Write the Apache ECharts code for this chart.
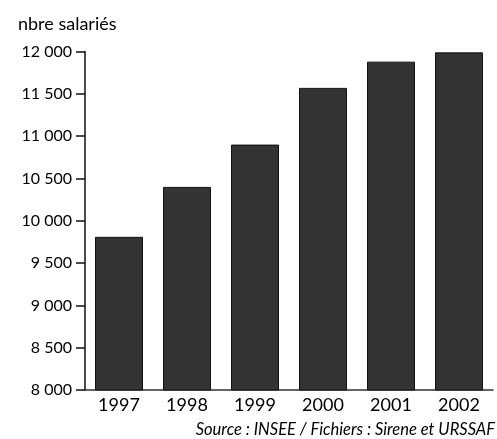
<!DOCTYPE html>
<html><head><meta charset="utf-8">
<script src="https://cdn.jsdelivr.net/npm/echarts@6/dist/echarts.min.js"></script>
<style>html,body{margin:0;padding:0;background:#fff}#c{width:497px;height:439px}</style>
</head><body><div id="c"></div>
<script>
const years = ['1997','1998','1999','2000','2001','2002'];
const salaries = [9810, 10400, 10900, 11570, 11880, 11990];
const yTitle = 'nbre salariés';
const sourceText = 'Source : INSEE / Fichiers : Sirene et URSSAF';
const fmt = v => String(v).replace(/\B(?=(\d{3})+(?!\d))/g, ' ');
const chart = echarts.init(document.getElementById('c'), null, {renderer:'canvas'});
chart.setOption({
  animation:false,
  backgroundColor:'#fff',
  textStyle:{fontFamily:'Lato'},
  grid:{left:85,right:4,top:51.5,bottom:49,containLabel:false},
  title:[
    {text:yTitle,left:13,top:10,textStyle:{fontFamily:'Lato',fontSize:18,fontWeight:'normal',color:'#000'}},
    {text:sourceText,right:-3,top:416,textStyle:{fontFamily:'Lato',fontSize:16.5,fontStyle:'italic',fontWeight:'normal',color:'#000'}}
  ],
  xAxis:{type:'category',data:years,
    axisLine:{lineStyle:{color:'#333',width:1.5}},
    axisTick:{show:false},
    axisLabel:{color:'#000',fontSize:18,margin:6,fontFamily:'Lato'}},
  yAxis:{type:'value',min:8000,max:12000,interval:500,
    axisLine:{show:true,lineStyle:{color:'#111',width:1.5}},
    axisTick:{show:true,length:9,lineStyle:{color:'#111',width:1.5}},
    splitLine:{show:false},
    axisLabel:{color:'#000',fontSize:16,margin:13,fontFamily:'Lato',formatter:fmt}},
  series:[{type:'bar',data:salaries,barWidth:48,
    itemStyle:{color:'#333333',borderColor:'#111',borderWidth:1}}]
});
</script></body></html>
